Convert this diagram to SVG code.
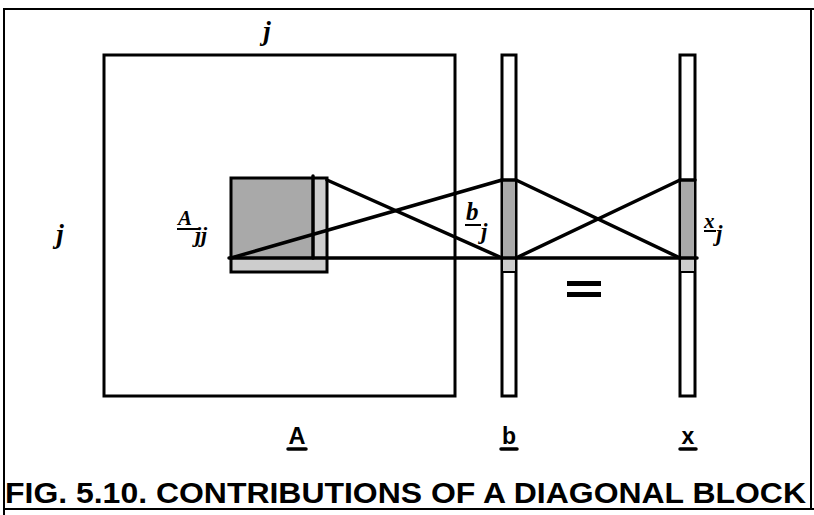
<svg xmlns="http://www.w3.org/2000/svg" width="814" height="515" viewBox="0 0 814 515">
<style>
.frame{fill:none;stroke:#000;stroke-width:2}
.box{fill:none;stroke:#000;stroke-width:3}
.col{fill:#fff;stroke:#000;stroke-width:3}
.dark{fill:#a9a9a9}
.light{fill:#cdcdcd}
.ln{stroke:#000;stroke-width:3.5;fill:none;stroke-linecap:round}
.it{font-family:"Liberation Serif",serif;font-style:italic;font-weight:bold;fill:#000}
.lbl{font-family:"Liberation Sans",Arial,sans-serif;font-weight:bold;fill:#000}
</style>
<rect width="814" height="515" fill="#fff"/>
<g id="frame">
<line class="frame" x1="3" y1="9" x2="814" y2="9"/>
<line class="frame" x1="4" y1="9" x2="4" y2="515"/>
<line class="frame" x1="3" y1="509" x2="814" y2="509"/>
<line class="frame" x1="811" y1="9" x2="811" y2="509"/>
</g>
<g id="matrixA">
<rect class="box" x="104" y="55" width="351" height="341"/>
<text class="it" x="267" y="40" font-size="27" text-anchor="middle">j</text>
<text class="it" x="60" y="243" font-size="27" text-anchor="middle">j</text>
<text class="lbl" x="297" y="444" font-size="23" text-anchor="middle" textLength="17" lengthAdjust="spacingAndGlyphs">A</text>
<line class="ln" x1="288" y1="449" x2="306" y2="449"/>
</g>
<g id="blockAjj">
<rect class="light" x="231" y="178" width="96" height="94"/>
<rect class="dark" x="231" y="178" width="82" height="80"/>
<rect class="box" x="231" y="178" width="96" height="94"/>
<line class="ln" x1="313" y1="176" x2="313" y2="258"/>
<text class="it" x="178" y="225" font-size="21">A</text>
<line x1="177" y1="229" x2="199" y2="229" stroke="#000" stroke-width="2"/>
<text class="it" x="195" y="242" font-size="22">jj</text>
</g>
<g id="vectorB">
<rect class="col" x="502" y="55" width="14" height="341"/>
<rect class="dark" x="503" y="180" width="12" height="78"/>
<rect class="light" x="503" y="258" width="12" height="14"/>
<line x1="502" y1="272" x2="516" y2="272" stroke="#000" stroke-width="2"/>
<text class="it" x="466" y="220" font-size="25">b</text>
<line x1="465" y1="225" x2="481" y2="225" stroke="#000" stroke-width="2"/>
<text class="it" x="481" y="239" font-size="23">j</text>
<text class="lbl" x="509" y="444" font-size="23" text-anchor="middle">b</text>
<line class="ln" x1="501" y1="449" x2="517" y2="449"/>
</g>
<g id="equals">
<rect x="567" y="281" width="34" height="5" fill="#000"/>
<rect x="567" y="292" width="34" height="5" fill="#000"/>
</g>
<g id="vectorX">
<rect class="col" x="680" y="55" width="15" height="341"/>
<rect class="dark" x="681" y="180" width="13" height="78"/>
<rect class="light" x="681" y="258" width="13" height="14"/>
<line x1="680" y1="272" x2="695" y2="272" stroke="#000" stroke-width="2"/>
<text class="it" x="704" y="228" font-size="21">x</text>
<line x1="704" y1="231" x2="716" y2="231" stroke="#000" stroke-width="2"/>
<text class="it" x="716" y="241" font-size="23">j</text>
<text class="lbl" x="688" y="444" font-size="23" text-anchor="middle">x</text>
<line class="ln" x1="680" y1="449" x2="696" y2="449"/>
</g>
<g id="connectors">
<line class="ln" x1="229" y1="258" x2="697" y2="258"/>
<line class="ln" x1="327" y1="180" x2="502" y2="258"/>
<line class="ln" x1="231" y1="258" x2="502" y2="180"/>
<line class="ln" x1="502" y1="180" x2="516" y2="180"/>
<line class="ln" x1="516" y1="180" x2="680" y2="258"/>
<line class="ln" x1="516" y1="258" x2="680" y2="180"/>
<line class="ln" x1="680" y1="180" x2="695" y2="180"/>
</g>
<g id="caption">
<text class="lbl" x="5" y="503" font-size="29" textLength="801" lengthAdjust="spacingAndGlyphs">FIG. 5.10. CONTRIBUTIONS OF A DIAGONAL BLOCK</text>
</g>
</svg>
